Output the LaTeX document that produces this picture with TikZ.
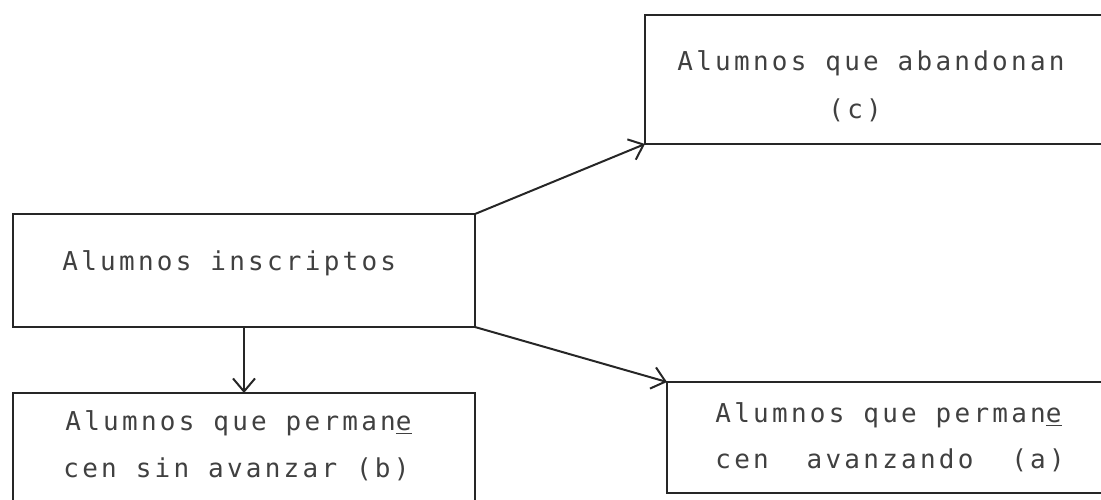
\documentclass[tikz,border=0pt]{standalone}
\usepackage{fontspec}
\setmonofont[LetterSpace=12.5]{DejaVu Sans Mono}
\usetikzlibrary{arrows.meta}
\tikzset{
  box/.style={draw=black!85, line width=1pt, rectangle, inner sep=0pt, outer sep=0pt, anchor=north west},
  lbl/.style={anchor=base west, inner sep=0pt, text=black!75, font=\ttfamily\fontsize{13}{15}\selectfont},
  conn/.style={draw=black!85, line width=1pt, -{Straight Barb[length=6.5pt,width=11pt,line width=1pt]}}
}
\begin{document}
\begin{tikzpicture}[x=0.5pt,y=-0.5pt]
\useasboundingbox (0,0) rectangle (1101,499);
% boxes
\node[box, minimum width=242.5pt, minimum height=64.5pt] (c) at (645,15) {};
\node[box, minimum width=231pt, minimum height=56.5pt] (i) at (13,214) {};
\node[box, minimum width=231pt, minimum height=63.5pt] (b) at (13,393) {};
\node[box, minimum width=231.5pt, minimum height=55.5pt] (a) at (667,382) {};
% texts
\node[lbl] (c1) at (677,70) {Alumnos que abandonan};
\node[lbl] (c2) at (828,118) {(c)};
\node[lbl] (i1) at (62,270) {Alumnos inscriptos};
\node[lbl] (b1) at (65,430) {Alumnos que perman\underline{e}};
\node[lbl] (b2) at (63,477) {cen sin avanzar (b)};
\node[lbl] (a1) at (715,422) {Alumnos que perman\underline{e}};
\node[lbl] (a2) at (715,468) {cen\ \ avanzando\ \ (a)};
% connectors
\draw[conn] (i.north east) -- (c.south west);
\draw[conn] (i.south east) -- (a.north west);
\draw[conn] (i.south) -- (b.north);
\end{tikzpicture}
\end{document}
